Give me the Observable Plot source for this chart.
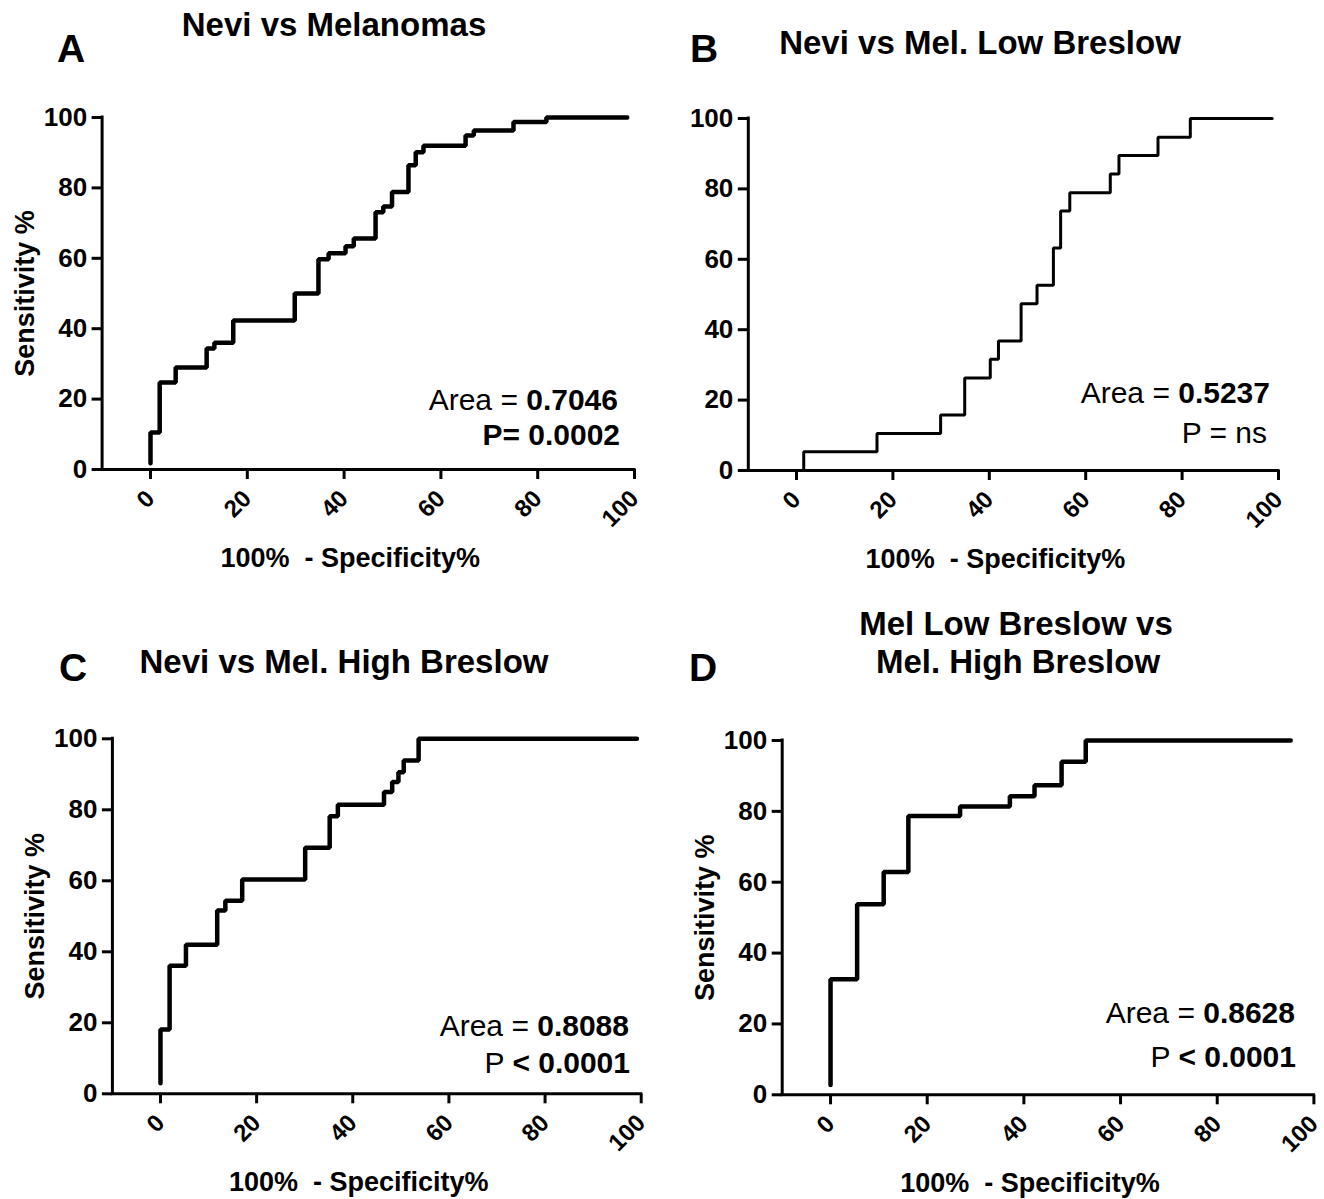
<!DOCTYPE html>
<html><head><meta charset="utf-8">
<script src="https://cdn.jsdelivr.net/npm/d3@7"></script>
<script src="https://cdn.jsdelivr.net/npm/@observablehq/plot@0.6"></script>
<style>
body{margin:0;background:#fff;}
#page{position:relative;width:1324px;height:1199px;font-family:"Liberation Sans",Arial,sans-serif;color:#000;overflow:hidden;background:#fff}
.abs{position:absolute;white-space:pre;line-height:1}
.wrap{position:absolute}
</style></head><body><div id="page"></div>
<script>
// ---- data ----
const panelLetters = ["A", "B", "C", "D"];
const titles = [["Nevi vs Melanomas"], ["Nevi vs Mel. Low Breslow"], ["Nevi vs Mel. High Breslow"], ["Mel Low Breslow vs", "Mel. High Breslow"]];
const xTicks = [0, 20, 40, 60, 80, 100];
const yTicks = [0, 20, 40, 60, 80, 100];
const xLabel = "100%\u00a0 - Specificity%";
const yLabel = "Sensitivity %";
const areaValues = ["0.7046", "0.5237", "0.8088", "0.8628"];
const pValues = [["", "P= 0.0002"], ["P = ns", ""], ["P ", "< 0.0001"], ["P ", "< 0.0001"]];

// 100% - Specificity% (x) and Sensitivity% (y), ROC corner points
const aX = [0, 1.9, 5.2, 11.6, 13.2, 17.1, 29.8, 34.7, 36.8, 40.3, 42.0, 46.5, 48.1, 49.9, 53.3, 54.8, 56.4, 65.1, 66.8, 75.0, 81.8, 98.5];
const aY = [1.8, 10.5, 24.7, 29.0, 34.4, 36.0, 42.3, 50.0, 59.7, 61.4, 63.4, 65.6, 73.1, 74.7, 78.8, 86.4, 90.1, 92.0, 94.9, 96.3, 98.7, 100];
const bX = [0, 1.5, 16.7, 29.9, 34.9, 40.2, 41.9, 46.6, 49.9, 53.3, 54.8, 56.7, 65.1, 66.9, 75.0, 81.7, 98.7];
const bY = [0, 0, 5.3, 10.5, 15.8, 26.3, 31.6, 36.8, 47.4, 52.6, 63.2, 73.7, 78.9, 84.2, 89.5, 94.7, 100];
const cX = [0, 1.9, 5.3, 11.8, 13.5, 17.0, 30.1, 35.2, 36.9, 46.5, 48.2, 49.5, 50.6, 53.7, 99.1];
const cY = [3.0, 18.1, 36.1, 42.0, 51.6, 54.4, 60.4, 69.3, 78.2, 81.4, 85.0, 87.8, 90.6, 93.9, 100];
const dX = [0, 5.5, 11.0, 16.1, 26.8, 37.1, 42.2, 47.8, 52.8, 95.2];
const dY = [2.8, 32.6, 53.8, 62.9, 78.7, 81.4, 84.3, 87.4, 94.0, 100];

// ---- layout ----
const layouts = [
  {xs: aX, ys: aY, left: 0,   top: 80,  w: 662, h: 520, ml: 101.6, mr: 28,   mt: 37,   mb: 131,   sw: 4.5, yl: true},
  {xs: bX, ys: bY, left: 662, top: 80,  w: 662, h: 520, ml: 85.8,  mr: 46,   mt: 38,   mb: 130,   sw: 3,   yl: false},
  {xs: cX, ys: cY, left: 0,   top: 700, w: 662, h: 499, ml: 111.9, mr: 21.3, mt: 38.3, mb: 105.7, sw: 4.5, yl: true},
  {xs: dX, ys: dY, left: 662, top: 700, w: 662, h: 499, ml: 119.7, mr: 10.6, mt: 40,   mb: 104.7, sw: 4.5, yl: true}
];
// text positions: letter [x, baseline], title lines [[cx, baseline]], area [right, baseline], p [right, baseline]
const textPos = [
  {letter: [57, 62],  title: [[334, 36]], area: [618, 410], p: [620, 445]},
  {letter: [690, 62], title: [[980, 54]], area: [1270, 403], p: [1267, 443]},
  {letter: [59, 681], title: [[344, 673]], area: [629, 1036], p: [630, 1073]},
  {letter: [689, 681], title: [[1016, 635], [1018, 673]], area: [1295, 1023], p: [1296, 1067]}
];

const page = document.getElementById("page");
const ASC = 0.8465;
function addText(html, x, baseline, size, align, weight) {
  const d = document.createElement("div");
  d.className = "abs";
  d.style.fontSize = size + "px";
  d.style.fontWeight = weight || "normal";
  d.style.top = (baseline - ASC * size) + "px";
  if (align === "right") d.style.right = (1324 - x) + "px";
  else if (align === "center") { d.style.left = x + "px"; d.style.transform = "translateX(-50%)"; }
  else d.style.left = x + "px";
  d.innerHTML = html;
  page.appendChild(d);
}

layouts.forEach((L, i) => {
  const data = L.xs.map((x, j) => ({x, y: L.ys[j]}));
  const marks = [
    Plot.ruleY([0], {x1: -10, x2: 100, stroke: "#000", strokeWidth: 3, strokeLinecap: "square"}),
    Plot.ruleX([-10], {y1: 0, y2: 100, stroke: "#000", strokeWidth: 3, strokeLinecap: "square"}),
    Plot.axisY(yTicks, {tickSize: 10, tickPadding: 5, strokeWidth: 3, fontSize: 26, label: null}),
    Plot.axisX(xTicks, {tickSize: 10, tickPadding: 15, strokeWidth: 3, fontSize: 24, tickRotate: -45, textAnchor: "end", lineAnchor: "middle", label: null}),
    Plot.line(data, {x: "x", y: "y", curve: "step-before", stroke: "#000", strokeWidth: L.sw, strokeLinejoin: "miter"}),
    Plot.text([xLabel], {frameAnchor: "bottom", textAnchor: "middle", dx: -18, dy: 89, fontSize: 27, lineAnchor: "middle"})
  ];
  if (L.yl) marks.push(Plot.text([yLabel], {frameAnchor: "left", textAnchor: "middle", rotate: -90, dx: -77, fontSize: 27, lineAnchor: "middle"}));
  const svg = Plot.plot({
    width: L.w, height: L.h,
    marginLeft: L.ml, marginRight: L.mr, marginTop: L.mt, marginBottom: L.mb,
    x: {domain: [-10, 100]},
    y: {domain: [0, 100]},
    style: {fontFamily: "'Liberation Sans', Arial, sans-serif", fontSize: "26px", fontWeight: "bold", color: "#000", background: "transparent", overflow: "visible"},
    marks
  });
  const wrap = document.createElement("div");
  wrap.className = "wrap";
  wrap.style.left = L.left + "px";
  wrap.style.top = L.top + "px";
  wrap.style.width = L.w + "px";
  wrap.appendChild(svg);
  page.appendChild(wrap);

  const T = textPos[i];
  addText(panelLetters[i], T.letter[0], T.letter[1], 39, "left", "bold");
  titles[i].forEach((line, k) => addText(line, T.title[k][0], T.title[k][1], 33, "center", "bold"));
  addText("Area = <b>" + areaValues[i] + "</b>", T.area[0], T.area[1], 30, "right", "normal");
  const pv = pValues[i];
  if (pv[0] && pv[1]) addText(pv[0] + "<b>" + pv[1].replace("<", "&lt;") + "</b>", T.p[0], T.p[1], 30, "right", "normal");
  else if (pv[1]) addText(pv[1], T.p[0], T.p[1], 30, "right", "bold");
  else addText(pv[0], T.p[0], T.p[1], 30, "right", "normal");
});
</script></body></html>
